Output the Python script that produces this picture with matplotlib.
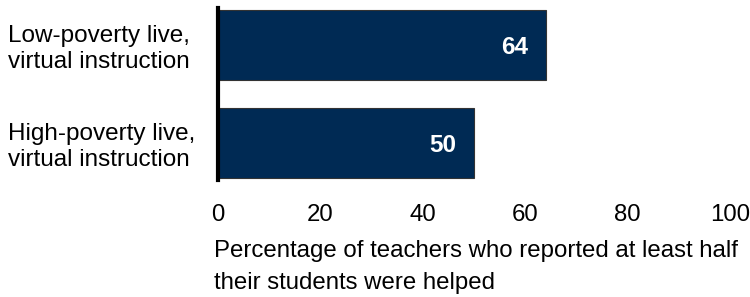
import matplotlib.pyplot as plt
import matplotlib.transforms as mtransforms

plt.rcParams['font.family'] = ['Liberation Sans', 'DejaVu Sans']

categories = ["Low-poverty live,\nvirtual instruction", "High-poverty live,\nvirtual instruction"]
values = [64, 50]
xticks = [0, 20, 40, 60, 80, 100]

fig = plt.figure(figsize=(7.5, 2.97), dpi=100)
ax = fig.add_axes([0.2907, 0.394, 0.6826, 0.579])

ypos = [1, 0]
ax.barh(ypos, values, height=0.714, color='#002a54', edgecolor='#333333', linewidth=0.8)
for y, v in zip(ypos, values):
    ax.text(v - 3.5, y - 0.03, str(v), color='white', fontsize=17.5, fontweight='bold',
            ha='right', va='center')

# category labels, left aligned near the figure edge
trans = mtransforms.blended_transform_factory(fig.transFigure, ax.transData)
for y, c in zip(ypos, categories):
    ax.text(0.011, y - 0.04, c, transform=trans, fontsize=17.5, ha='left', va='center',
            linespacing=1.2)

ax.set_xlim(0, 100)
ax.set_ylim(-0.378, 1.378)
ax.set_xticks(xticks)
ax.set_xticklabels([str(t) for t in xticks], fontsize=17.3)
ax.set_yticks([])
ax.tick_params(axis='both', length=0, pad=17)
for s in ['top', 'right', 'bottom']:
    ax.spines[s].set_visible(False)
ax.spines['left'].set_linewidth(3)
ax.spines['left'].set_color('black')

fig.text(0.2853, 0.10, "Percentage of teachers who reported at least half\ntheir students were helped",
         fontsize=17.3, ha='left', va='center', linespacing=1.6)

fig.savefig('out.png', dpi=100)
